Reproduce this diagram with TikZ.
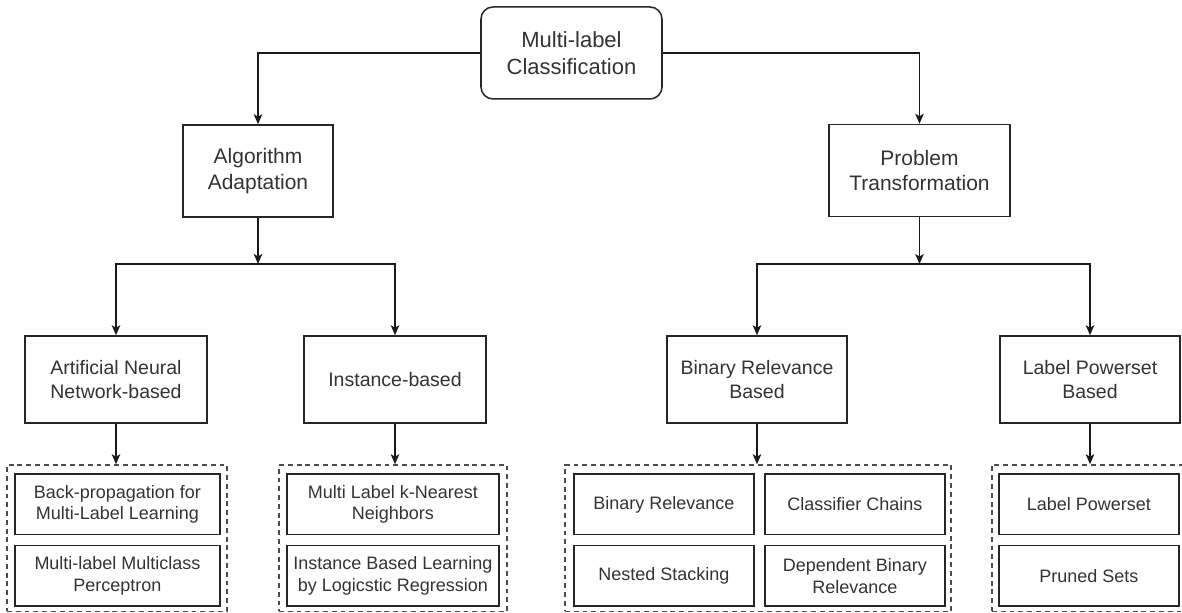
\documentclass[tikz,border=0pt]{standalone}
\usepackage{fontspec}
\setmainfont{Liberation Sans}
\usetikzlibrary{arrows.meta}

\newcommand{\rootfont}{\fontsize{6.26}{7.51}\selectfont}
\newcommand{\midfont}{\fontsize{5.97}{7.17}\selectfont}
\newcommand{\lowfont}{\fontsize{5.55}{6.66}\selectfont}
\newcommand{\methodfont}{\fontsize{5.12}{6.15}\selectfont}

\begin{document}
\begin{tikzpicture}
[
x=1cm, y=-1cm,
RootBox/.style={rectangle, rounded corners=0.12cm, draw=black!85, line width=0.43pt, inner sep=0pt, minimum width=1.81cm, minimum height=0.92cm, align=center, text=black!80, font=\rootfont},
TypeBox/.style={rectangle, draw=black!85, line width=0.43pt, inner sep=0pt, minimum height=0.92cm, align=center, text=black!80, font=\midfont},
FamilyBox/.style={rectangle, draw=black!85, line width=0.43pt, inner sep=0pt, minimum width=1.81cm, minimum height=0.87cm, align=center, text=black!80, font=\lowfont},
MethodBox/.style={rectangle, draw=black!85, line width=0.43pt, inner sep=0pt, minimum height=0.605cm, align=center, text=black!80, font=\methodfont},
GroupBox/.style={rectangle, draw=black!70, line width=0.43pt, dash pattern=on 1.4pt off 1.1pt, inner sep=0pt, minimum height=1.465cm},
Arrow/.style={-{Stealth[length=0.1cm, width=0.085cm, inset=0.025cm]}, draw=black!90, line width=0.43pt},
]

\useasboundingbox (0,0) rectangle (11.82,6.13);
\clip (0,0) rectangle (11.82,6.13);

% top
\node[RootBox] (root) at (5.715,0.53) {Multi-label\\Classification};

\node[TypeBox, minimum width=1.50cm] (algo) at (2.58,1.71) {Algorithm\\Adaptation};
\node[TypeBox, minimum width=1.81cm] (prob) at (9.195,1.705) {Problem\\Transformation};

\draw[Arrow] (root.west) -| (algo.north);
\draw[Arrow] (root.east) -| (prob.north);

% second level
\node[FamilyBox, minimum width=1.82cm] (ann) at (1.16,3.795) {Artificial Neural\\Network-based};
\node[FamilyBox, minimum width=1.82cm] (inst) at (3.95,3.795) {Instance-based};
\node[FamilyBox, minimum width=1.80cm] (binrel) at (7.57,3.795) {Binary Relevance\\Based};
\node[FamilyBox, minimum width=1.80cm] (lpow) at (10.90,3.795) {Label Powerset\\Based};

\coordinate (algoSplit) at (2.58,2.64);
\coordinate (probSplit) at (9.195,2.64);

\draw[Arrow] (algo) -- (algoSplit);
\draw[Arrow] (algoSplit) -| (ann.north);
\draw[Arrow] (algoSplit) -| (inst.north);

\draw[Arrow] (prob) -- (probSplit);
\draw[Arrow] (probSplit) -| (binrel.north);
\draw[Arrow] (probSplit) -| (lpow.north);

% method groups
\node[GroupBox, minimum width=2.20cm] (grpAnn) at (1.17,5.3825) {};
\node[GroupBox, minimum width=2.28cm] (grpInst) at (3.93,5.3825) {};
\node[GroupBox, minimum width=3.86cm] (grpBin) at (7.58,5.3825) {};
\node[GroupBox, minimum width=1.94cm] (grpLp) at (10.89,5.3825) {};

\draw[Arrow] (ann.south) -- (ann.south |- grpAnn.north);
\draw[Arrow] (inst.south) -- (inst.south |- grpInst.north);
\draw[Arrow] (binrel.south) -- (binrel.south |- grpBin.north);
\draw[Arrow] (lpow.south) -- (lpow.south |- grpLp.north);

\node[MethodBox, minimum width=2.05cm] (bpmll) at (1.175,5.045) {Back-propagation for\\Multi-Label Learning};
\node[MethodBox, minimum width=2.05cm] (mmp) at (1.175,5.76) {Multi-label Multiclass\\Perceptron};

\node[MethodBox, minimum width=2.12cm] (mlknn) at (3.93,5.045) {Multi Label k-Nearest\\Neighbors};
\node[MethodBox, minimum width=2.12cm] (iblr) at (3.93,5.76) {Instance Based Learning\\by Logicstic Regression};

\node[MethodBox, minimum width=1.80cm] (br) at (6.64,5.045) {Binary Relevance};
\node[MethodBox, minimum width=1.80cm] (cc) at (8.55,5.045) {Classifier Chains};
\node[MethodBox, minimum width=1.80cm] (ns) at (6.64,5.76) {Nested Stacking};
\node[MethodBox, minimum width=1.80cm] (dbr) at (8.55,5.76) {Dependent Binary\\Relevance};

\node[MethodBox, minimum width=1.80cm] (lp) at (10.89,5.045) {Label Powerset};
\node[MethodBox, minimum width=1.80cm] (ps) at (10.89,5.76) {Pruned Sets};

\end{tikzpicture}
\end{document}
